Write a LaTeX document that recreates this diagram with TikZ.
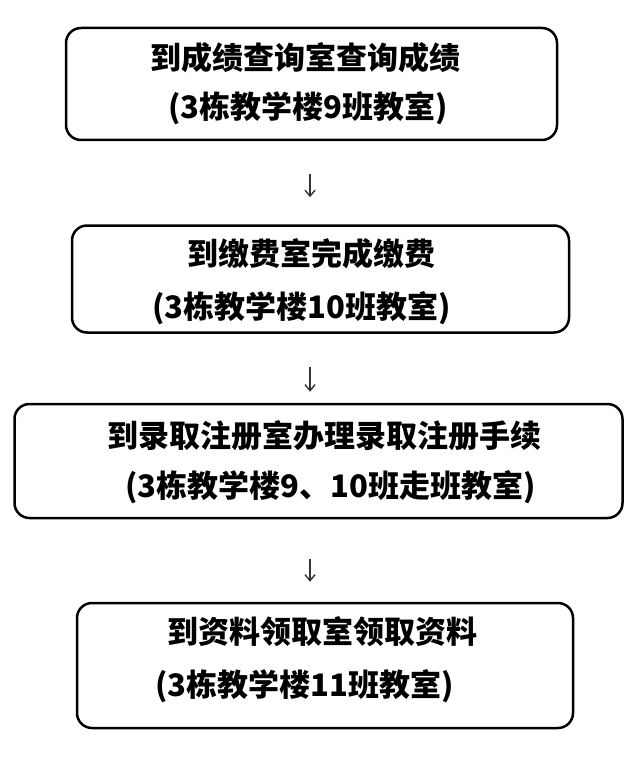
\documentclass[tikz,border=0pt]{standalone}
\usepackage{fontspec}
\newfontfamily\cjk{Noto Sans CJK SC}
\usetikzlibrary{arrows.meta, positioning, calc}

\begin{document}
\begin{tikzpicture}[x=1pt, y=-1pt,
  box/.style={draw, line width=2.5pt, rounded corners=15pt, rectangle, inner sep=0pt},
  txt/.style={anchor=west, inner sep=0pt, font=\cjk\bfseries\fontsize{31}{31}\selectfont},
  arr/.style={draw=black!80, line width=1.4pt, -{Straight Barb[length=6pt, width=10pt]}}]
\useasboundingbox (0,0) rectangle (636,759);
\coordinate (ax) at (310,0);
% boxes
\node[box, minimum width=491pt, minimum height=112pt] (b1) at (311.5,84) {};
\node[box, minimum width=497pt, minimum height=107pt] (b2) at (320.5,279) {};
\node[box, minimum width=608pt, minimum height=114pt] (b3) at (318.5,461) {};
\node[box, minimum width=496pt, minimum height=125pt] (b4) at (325,665.5) {};
% texts
\node[txt] (t1a) at (150,58) {到成绩查询室查询成绩};
\node[txt] (t1b) at (168,108) {(3栋教学楼9班教室)};
\node[txt] (t2a) at (187,254) {到缴费室完成缴费};
\node[txt] (t2b) at (152,308) {(3栋教学楼10班教室)};
\node[txt] (t3a) at (107,436) {到录取注册室办理录取注册手续};
\node[txt] (t3b) at (125,487) {(3栋教学楼9、10班走班教室)};
\node[txt] (t4a) at (167,632) {到资料领取室领取资料};
\node[txt] (t4b) at (155,686) {(3栋教学楼11班教室)};
% arrows
\draw[arr, shorten <=33pt, shorten >=27pt] (b1.south -| ax) -- (b2.north -| ax);
\draw[arr, shorten <=33pt, shorten >=11pt] (b2.south -| ax) -- (b3.north -| ax);
\draw[arr, shorten <=40pt, shorten >=20pt] (b3.south -| ax) -- (b4.north -| ax);
\end{tikzpicture}
\end{document}
